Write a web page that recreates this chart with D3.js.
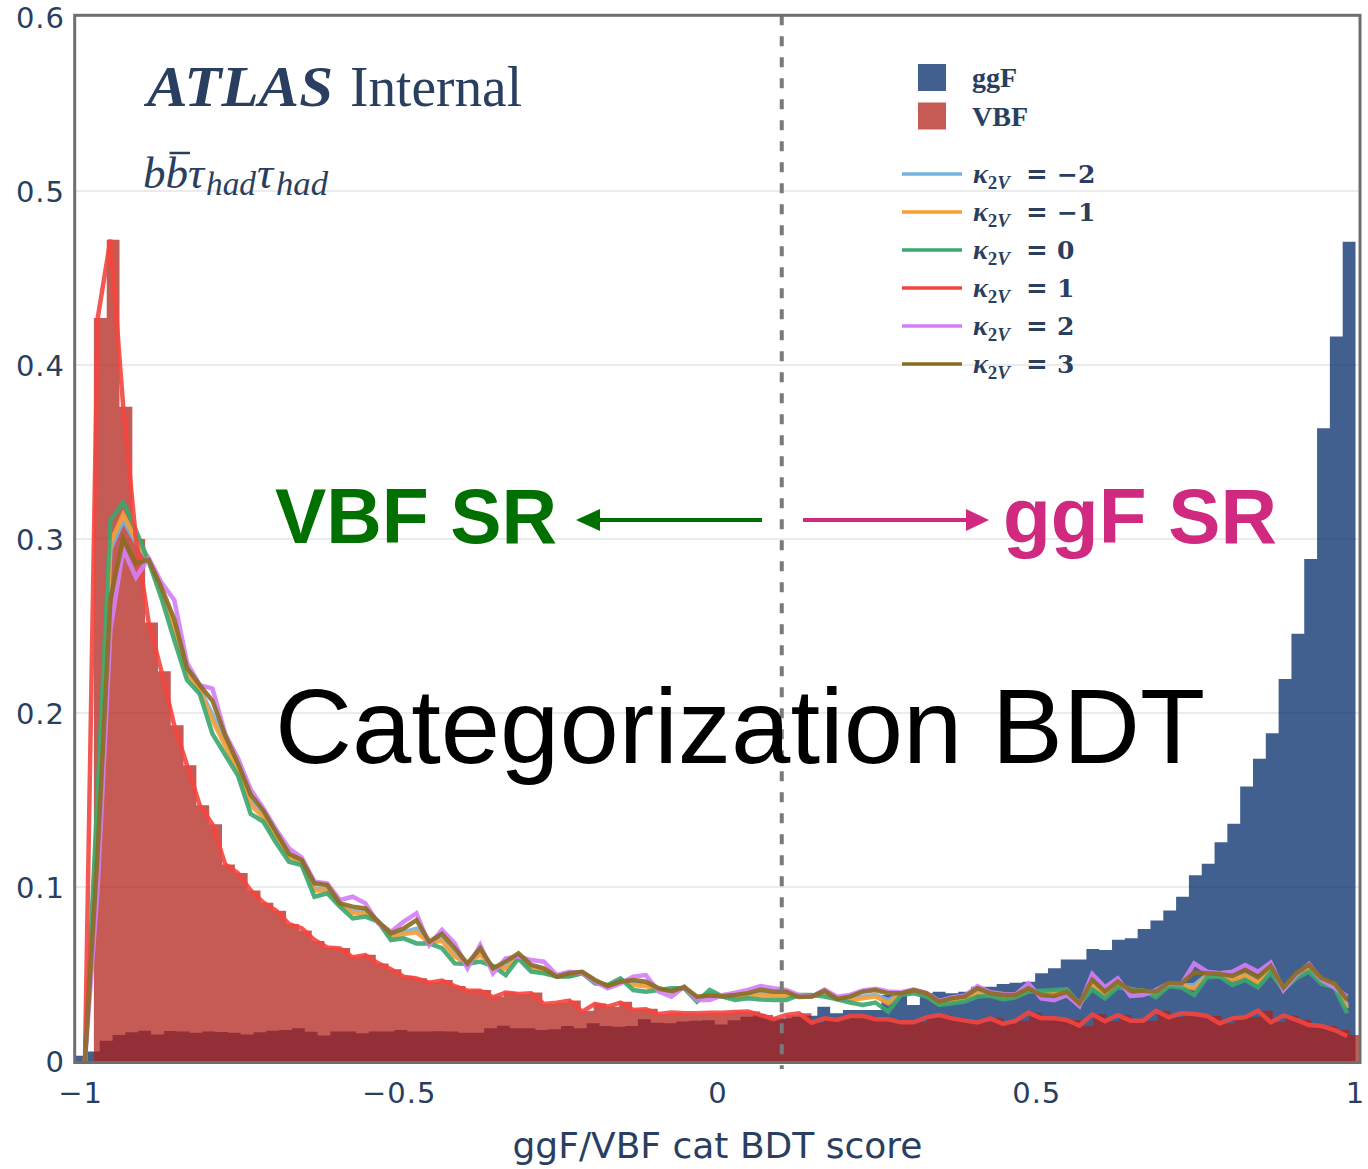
<!DOCTYPE html>
<html><head><meta charset="utf-8">
<script src="https://cdn.jsdelivr.net/npm/d3@7"></script>
<style>body{margin:0;background:#fff}svg{display:block}</style>
</head><body>
<svg id="chart" width="1368" height="1169"></svg>
<script>
// ---------------- data ----------------
const ggfStart = -1.01, ggfWidth = 0.0201;
const ggfValues = [
0.003,0.0055,0.0117,0.0149,0.0165,0.0174,0.0153,0.0172,0.0169,0.0163,
0.0169,0.0167,0.0163,0.0153,0.0165,0.0174,0.0178,0.0188,0.0168,0.0146,
0.0169,0.0169,0.0159,0.017,0.017,0.0178,0.0169,0.0169,0.0171,0.0169,
0.0163,0.0163,0.0188,0.0203,0.0188,0.0188,0.0178,0.0182,0.0201,0.0188,
0.0217,0.0201,0.0197,0.0201,0.024,0.022,0.0217,0.0227,0.0232,0.0234,
0.021,0.0234,0.0255,0.027,0.025,0.0245,0.0255,0.026,0.0312,0.0274,
0.0293,0.0293,0.0293,0.0379,0.0379,0.0322,0.0389,0.0398,0.0389,0.0398,
0.0427,0.0427,0.0443,0.045,0.0456,0.0504,0.0533,0.0584,0.0584,0.0644,
0.0638,0.0697,0.0706,0.0758,0.0807,0.0865,0.0944,0.1067,0.1134,0.1257,
0.1364,0.1578,0.1737,0.1884,0.2196,0.2456,0.2885,0.3637,0.4164,0.4709];

const vbfStart = -0.979, vbfWidth = 0.0201;
const vbfValues = [
0.427,0.472,0.376,0.300,0.252,0.224,0.193,0.170,0.147,0.136,
0.113,0.108,0.098,0.091,0.0864,0.0787,0.0750,0.069,0.0653,0.0650,
0.060,0.061,0.0561,0.0527,0.0485,0.0475,0.0456,0.0466,0.0431,0.0408,
0.0408,0.037,0.0395,0.0385,0.0393,0.0328,0.0335,0.0347,0.0289,0.0331,
0.0312,0.0341,0.0297,0.030,0.027,0.0278,0.0274,0.0274,0.0278,0.0278,
0.0284,0.0284,0.0264,0.024,0.0264,0.0274,0.022,0.0245,0.0236,0.0259,
0.0259,0.024,0.024,0.0222,0.0222,0.0251,0.0264,0.0245,0.0232,0.0222,
0.0245,0.0213,0.0232,0.0278,0.0245,0.0245,0.0236,0.0203,0.0268,0.0228,
0.0264,0.0232,0.0232,0.0289,0.0251,0.0274,0.027,0.0259,0.0216,0.0245,
0.0251,0.0289,0.0222,0.0262,0.0236,0.0207,0.0201,0.0178,0.0150];

const lineStart = -0.993, lineStep = 0.02;
const kappaM2 = [
0,0.14,0.294,0.311,0.298,0.288,0.270,0.250,0.224,0.214,
0.199,0.183,0.169,0.149,0.141,0.129,0.118,0.1145,0.099,0.099,
0.090,0.086,0.086,0.080,0.072,0.074,0.076,0.068,0.070,0.061,
0.056,0.062,0.054,0.054,0.060,0.054,0.052,0.0485,0.0495,0.051,
0.046,0.0432,0.046,0.045,0.044,0.0412,0.0405,0.0422,0.036,0.0385,
0.037,0.037,0.038,0.039,0.038,0.038,0.0372,0.0373,0.039,0.0356,
0.0355,0.037,0.038,0.035,0.0386,0.040,0.0382,0.0335,0.035,0.036,
0.040,0.0385,0.037,0.0375,0.0412,0.0395,0.0392,0.0407,0.033,0.0445,
0.0385,0.0445,0.041,0.0404,0.0385,0.0442,0.0436,0.0437,0.0495,0.0492,
0.048,0.050,0.046,0.0535,0.0417,0.0492,0.054,0.0465,0.044,0.032];
const kappaM1 = [
0,0.145,0.298,0.314,0.300,0.288,0.269,0.248,0.222,0.213,
0.196,0.181,0.167,0.147,0.140,0.128,0.117,0.114,0.098,0.098,
0.0895,0.085,0.085,0.080,0.071,0.073,0.074,0.068,0.069,0.060,
0.056,0.061,0.054,0.053,0.060,0.053,0.052,0.0485,0.049,0.0508,
0.0455,0.0434,0.0465,0.0437,0.043,0.041,0.041,0.042,0.0355,0.039,
0.037,0.0365,0.0375,0.038,0.0375,0.0375,0.0374,0.0375,0.0386,0.0356,
0.035,0.036,0.037,0.0331,0.0384,0.0398,0.038,0.033,0.0345,0.0355,
0.0395,0.038,0.0366,0.0372,0.041,0.039,0.039,0.0405,0.0329,0.044,
0.038,0.044,0.041,0.0404,0.0382,0.044,0.0434,0.0418,0.049,0.049,
0.0466,0.049,0.045,0.0527,0.0415,0.049,0.053,0.046,0.0436,0.0303];
const kappa0 = [
0,0.155,0.311,0.321,0.305,0.287,0.266,0.242,0.219,0.211,
0.188,0.176,0.164,0.142,0.1375,0.1253,0.1145,0.1126,0.0944,0.0964,
0.0887,0.082,0.083,0.0801,0.0695,0.0705,0.0676,0.0676,0.0648,0.0561,
0.0557,0.0571,0.0546,0.0494,0.059,0.0513,0.0504,0.0485,0.0485,0.0504,
0.0446,0.0437,0.0475,0.0408,0.0398,0.0408,0.0418,0.0418,0.0341,0.0408,
0.037,0.0351,0.036,0.0354,0.0351,0.0351,0.0379,0.0379,0.037,0.0355,
0.0336,0.0322,0.0336,0.0284,0.0379,0.0389,0.037,0.0322,0.0331,0.0341,
0.037,0.0375,0.0354,0.0366,0.0398,0.0404,0.0408,0.0412,0.0327,0.0412,
0.036,0.0423,0.0412,0.0404,0.0366,0.0431,0.0423,0.0379,0.0481,0.0485,
0.0437,0.0466,0.0423,0.0508,0.0408,0.0475,0.0513,0.0442,0.0423,0.0274];
const kappa1 = [
0,0.427,0.472,0.376,0.300,0.252,0.224,0.193,0.170,0.147,
0.136,0.113,0.108,0.098,0.091,0.0864,0.0787,0.0763,0.0695,0.0653,
0.0647,0.0596,0.0609,0.0561,0.0527,0.0485,0.0475,0.045,0.0462,0.0431,
0.0404,0.0404,0.0366,0.0393,0.0385,0.0389,0.0328,0.0335,0.0347,0.0284,
0.0328,0.0312,0.0335,0.0293,0.0297,0.027,0.0278,0.0274,0.0274,0.0278,
0.0278,0.0282,0.0284,0.0264,0.024,0.0264,0.0274,0.022,0.0245,0.0236,
0.0259,0.0259,0.024,0.024,0.0222,0.0222,0.0251,0.0264,0.0245,0.0232,
0.0222,0.0245,0.0213,0.0232,0.0278,0.0245,0.0245,0.0236,0.0203,0.0268,
0.0228,0.0264,0.0232,0.0232,0.0289,0.0251,0.0274,0.027,0.0259,0.0216,
0.0245,0.0251,0.0289,0.0222,0.0262,0.0236,0.0207,0.0201,0.0178,0.0144];
const kappa2 = [
0,0.10,0.248,0.294,0.278,0.289,0.275,0.265,0.229,0.216,
0.214,0.188,0.174,0.156,0.1452,0.1329,0.1222,0.117,0.1031,0.1021,
0.0925,0.0944,0.0906,0.0791,0.0743,0.0801,0.0849,0.0667,0.0753,0.0676,
0.0533,0.0667,0.0504,0.059,0.060,0.058,0.0571,0.0494,0.0513,0.0504,
0.0456,0.0418,0.0446,0.0485,0.0494,0.0398,0.037,0.0427,0.0351,0.0351,
0.0379,0.0393,0.0408,0.0431,0.0418,0.0408,0.0379,0.037,0.041,0.037,
0.038,0.0405,0.0415,0.040,0.0395,0.041,0.0392,0.0345,0.0365,0.0375,
0.043,0.0395,0.0385,0.0383,0.0446,0.036,0.0349,0.0379,0.0316,0.050,
0.0423,0.0475,0.0374,0.0379,0.0408,0.0446,0.0442,0.0561,0.0513,0.0504,
0.0513,0.0552,0.0513,0.0565,0.0408,0.0494,0.0558,0.0466,0.0423,0.037];
const kappa3 = [
0,0.12,0.266,0.300,0.286,0.288,0.272,0.254,0.226,0.216,
0.207,0.187,0.171,0.153,0.1437,0.1314,0.1191,0.1155,0.1021,0.1011,
0.0906,0.0887,0.0877,0.0801,0.0734,0.0762,0.081,0.0686,0.073,0.0648,
0.0561,0.0648,0.0533,0.0571,0.0619,0.0552,0.0533,0.0485,0.0504,0.0513,
0.0466,0.0431,0.0456,0.0466,0.0456,0.0418,0.040,0.0425,0.037,0.0376,
0.0372,0.0379,0.039,0.041,0.0398,0.0398,0.0368,0.037,0.0403,0.0357,
0.037,0.0398,0.0408,0.0389,0.0389,0.0408,0.0389,0.0341,0.036,0.037,
0.0418,0.0389,0.0379,0.0379,0.0418,0.0379,0.0374,0.0398,0.0331,0.0466,
0.0398,0.0456,0.0404,0.0404,0.0398,0.045,0.0446,0.0508,0.0504,0.050,
0.0489,0.0523,0.0481,0.0546,0.0423,0.0504,0.0552,0.0475,0.0446,0.0351];

const kappaLabels = ["\u22122","\u22121","0","1","2","3"];
const kappaColors = ["#74b2e2","#f99f33","#3ba66f","#f4453f","#d47ef6","#8b6b22"];
const histLabels = ["ggF","VBF"];
const xTicks = [-1,-0.5,0,0.5,1];
const xTickLabels = ["\u22121","\u22120.5","0","0.5","1"];
const yTicks = [0,0.1,0.2,0.3,0.4,0.5,0.6];
const yTickLabels = ["0","0.1","0.2","0.3","0.4","0.5","0.6"];
const cutValue = 0.1;
const xTitle = "ggF/VBF cat BDT score";

// ---------------- drawing ----------------
const svg = d3.select("#chart");
const x = d3.scaleLinear().domain([-1,1]).range([80.5,1355.5]);
const y = d3.scaleLinear().domain([0,0.6]).range([1061,17]);
const fr = {l:74.7, r:1360, t:15.3, b:1062.5};
const navy = "#2a3f5f";

svg.append("rect").attr("width",1368).attr("height",1169).attr("fill","#fff");
svg.append("defs").append("clipPath").attr("id","clip")
  .append("rect").attr("x",fr.l).attr("y",fr.t).attr("width",fr.r-fr.l).attr("height",fr.b-fr.t);

// grid
svg.append("g").selectAll("line").data(yTicks.filter(v=>v>0&&v<0.6)).join("line")
  .attr("x1",fr.l).attr("x2",fr.r).attr("y1",d=>y(d)).attr("y2",d=>y(d))
  .attr("stroke","#ebebeb").attr("stroke-width",2);

const plot = svg.append("g").attr("clip-path","url(#clip)");
function histPath(start,width,values){
  const pts = values.map((v,i)=>({e:start+i*width, v}));
  pts.push({e:start+values.length*width, v:values[values.length-1]});
  return d3.area().x(d=>x(d.e)).y0(y(0)).y1(d=>y(d.v)).curve(d3.curveStepAfter)(pts);
}
plot.append("path").attr("d",histPath(ggfStart,ggfWidth,ggfValues))
  .attr("fill","rgb(2,43,106)").attr("fill-opacity",0.75);
plot.append("path").attr("d",histPath(vbfStart,vbfWidth,vbfValues))
  .attr("fill","rgb(177,29,22)").attr("fill-opacity",0.73);

const kappaSeries = [kappaM2,kappaM1,kappa0,kappa1,kappa2,kappa3];
const line = d3.line().x((d,i)=>x(lineStart+i*lineStep)).y(d=>y(d));
kappaSeries.forEach((vals,i)=>{
  plot.append("path").attr("d",line(vals)).attr("fill","none")
    .attr("stroke",kappaColors[i]).attr("stroke-width",4.5).attr("stroke-opacity",0.9)
    .attr("stroke-linejoin","miter");
});

// cut line
svg.append("line").attr("x1",x(cutValue)).attr("x2",x(cutValue)).attr("y1",fr.t).attr("y2",1069)
  .attr("stroke","#7a7a7a").attr("stroke-width",4).attr("stroke-dasharray","10,11");

// frame
svg.append("rect").attr("x",fr.l).attr("y",fr.t).attr("width",fr.r-fr.l).attr("height",fr.b-fr.t)
  .attr("fill","none").attr("stroke","#6e6e6e").attr("stroke-width",3);

// ticks
svg.append("g").selectAll("text").data(yTicks).join("text")
  .attr("x",65).attr("y",d=>y(d)+10.5).attr("text-anchor","end")
  .attr("font-family","DejaVu Sans").attr("font-size",29).attr("letter-spacing",1).attr("fill",navy)
  .text((d,i)=>yTickLabels[i]);
svg.append("g").selectAll("text").data(xTicks).join("text")
  .attr("x",d=>x(d)).attr("y",1103).attr("text-anchor","middle")
  .attr("font-family","DejaVu Sans").attr("font-size",29).attr("letter-spacing",1).attr("fill",navy)
  .text((d,i)=>xTickLabels[i]);
svg.append("text").attr("x",717.5).attr("y",1158).attr("text-anchor","middle")
  .attr("font-family","DejaVu Sans").attr("font-size",36).attr("fill",navy).text(xTitle);

// ATLAS label
const atl = svg.append("text").attr("y",106)
  .attr("font-family","Liberation Serif").attr("font-size",57).attr("fill",navy);
atl.append("tspan").attr("x",147).attr("font-weight","bold").attr("font-style","italic")
  .attr("textLength",186).attr("lengthAdjust","spacingAndGlyphs").text("ATLAS");
atl.append("tspan").attr("x",350).attr("textLength",172).attr("lengthAdjust","spacingAndGlyphs").text("Internal");

const ch = svg.append("text").attr("y",188)
  .attr("font-family","Liberation Serif").attr("font-style","italic").attr("font-size",45).attr("fill",navy);
ch.append("tspan").attr("x",143).text("bb");
ch.append("tspan").attr("x",188).text("\u03c4");
ch.append("tspan").attr("x",206).attr("font-size",33).attr("dy",7).attr("textLength",50).attr("lengthAdjust","spacingAndGlyphs").text("had");
ch.append("tspan").attr("x",257).attr("font-size",45).attr("dy",-7).text("\u03c4");
ch.append("tspan").attr("x",276).attr("font-size",33).attr("dy",7).attr("textLength",52).attr("lengthAdjust","spacingAndGlyphs").text("had");
const ext = ch.node().getExtentOfChar(1);
svg.append("line").attr("x1",ext.x+4).attr("x2",ext.x+ext.width+2).attr("y1",153).attr("y2",153)
  .attr("stroke",navy).attr("stroke-width",2.5);

// legend
const lg = svg.append("g");
const histColors = ["#41608f","#c65a55"];
histLabels.forEach((l,i)=>{
  lg.append("rect").attr("x",918).attr("y",64+i*38.5).attr("width",28).attr("height",27).attr("fill",histColors[i]);
  lg.append("text").attr("x",972).attr("y",87+i*38.5).attr("font-family","Liberation Serif")
    .attr("font-weight","bold").attr("font-size",28).attr("fill",navy).text(l);
});
kappaLabels.forEach((l,i)=>{
  const yy = 174 + i*38;
  lg.append("line").attr("x1",902).attr("x2",962).attr("y1",yy).attr("y2",yy)
    .attr("stroke",kappaColors[i]).attr("stroke-width",3.5);
  const t = lg.append("text").attr("x",973).attr("y",yy+9).attr("font-family","Liberation Serif")
    .attr("font-weight","bold").attr("font-size",28).attr("fill",navy);
  t.append("tspan").attr("font-style","italic").text("\u03ba");
  t.append("tspan").attr("font-size",19).attr("dy",6).text("2");
  t.append("tspan").attr("font-size",19).attr("font-style","italic").text("V");
  t.append("tspan").attr("x",1026).attr("dy",-6).attr("font-family","DejaVu Serif").attr("font-size",26).text("=");
  t.append("tspan").attr("x",1057).attr("font-family","DejaVu Serif").attr("font-size",25).text(l);
});

// annotations
svg.append("text").attr("x",275).attr("y",543).attr("font-family","Liberation Sans")
  .attr("font-weight","bold").attr("font-size",77).attr("fill","#007000")
  .attr("textLength",282).attr("lengthAdjust","spacingAndGlyphs").text("VBF SR");
svg.append("text").attr("x",1003).attr("y",543).attr("font-family","Liberation Sans")
  .attr("font-weight","bold").attr("font-size",78).attr("fill","#cf2a7f")
  .attr("textLength",274).attr("lengthAdjust","spacingAndGlyphs").text("ggF SR");
svg.append("line").attr("x1",762).attr("x2",596).attr("y1",520).attr("y2",520).attr("stroke","#007000").attr("stroke-width",4);
svg.append("path").attr("d",d3.line()([[576,520],[600,509],[600,531]])+"Z").attr("fill","#007000");
svg.append("line").attr("x1",803).attr("x2",970).attr("y1",520).attr("y2",520).attr("stroke","#cf2a7f").attr("stroke-width",4);
svg.append("path").attr("d",d3.line()([[989,520],[966,509],[966,531]])+"Z").attr("fill","#cf2a7f");
svg.append("text").attr("x",275).attr("y",763).attr("font-family","Liberation Sans")
  .attr("font-size",106).attr("fill","#000")
  .attr("textLength",930).attr("lengthAdjust","spacingAndGlyphs").text("Categorization BDT");
</script>
</body></html>
